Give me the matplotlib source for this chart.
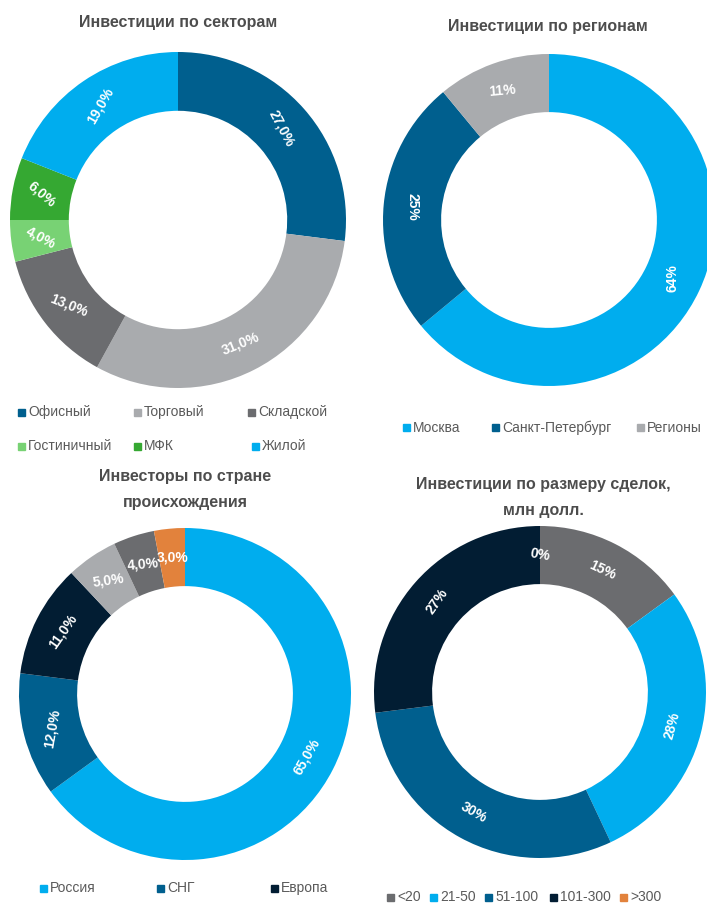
import matplotlib
matplotlib.use("Agg")
import matplotlib.pyplot as plt
import numpy as np

plt.rcParams['font.family'] = ['Liberation Sans Narrow', 'Liberation Sans', 'DejaVu Sans']

# --- данные ---
sector_names = ['Офисный', 'Торговый', 'Складской', 'Гостиничный', 'МФК', 'Жилой']
sector_vals = [27.0, 31.0, 13.0, 4.0, 6.0, 19.0]

region_names = ['Москва', 'Санкт-Петербург', 'Регионы']
region_vals = [64, 25, 11]

origin_names = ['Россия', 'СНГ', 'Европа', 'Азия', 'Америка', 'Другие']
origin_vals = [65.0, 12.0, 11.0, 5.0, 4.0, 3.0]

size_names = ['<20', '21-50', '51-100', '101-300', '>300']
size_vals = [15, 28, 30, 27, 0]

# цвета
C_DBLUE = '#005f8e'
C_LBLUE = '#00adee'
C_LGRAY = '#a9abae'
C_DGRAY = '#6b6c6f'
C_LGREEN = '#78d274'
C_GREEN = '#35a832'
C_NAVY = '#021d33'
C_ORANGE = '#e2823c'

W, H = 707, 908
fig = plt.figure(figsize=(W / 100, H / 100), dpi=100)
fig.patch.set_facecolor('white')

TITLE_C = '#4d4d4d'
LEG_C = '#5a5a5a'


def donut(cx, cy, r, vals, colors, fmt, rots):
    ax = fig.add_axes([(cx - r) / W, (H - cy - r) / H, 2 * r / W, 2 * r / H])
    ax.pie(vals, colors=colors, startangle=90, counterclock=False, radius=1,
           wedgeprops=dict(width=0.35, linewidth=0))
    ax.set_xlim(-1, 1)
    ax.set_ylim(-1, 1)
    ax.set_aspect('equal')
    ax.axis('off')
    total = sum(vals)
    start = 90.0
    for v, rot in zip(vals, rots):
        span = v / total * 360
        mid = np.deg2rad(start - span / 2)
        start -= span
        ax.text(0.825 * np.cos(mid), 0.825 * np.sin(mid), fmt(v), rotation=rot,
                ha='center', va='center', color='white', fontsize=10,
                fontweight='bold', rotation_mode='anchor')
    return ax


def title(x, ys, lines):
    for y, s in zip(ys, lines):
        fig.text(x / W, (H - y) / H, s, ha='center', va='center',
                 fontsize=11.5, fontweight='bold', color=TITLE_C)


def legend_row(y, xs, names, colors):
    for x, n, c in zip(xs, names, colors):
        fig.patches.append(plt.Rectangle((x / W, (H - y - 3.5) / H), 7 / W, 7 / H,
                                         transform=fig.transFigure, color=c))
        fig.text((x + 10) / W, (H - y) / H, n, color=LEG_C, fontsize=10,
                 ha='left', va='center')


comma = lambda v: f'{v:.1f}%'.replace('.', ',')
whole = lambda v: f'{v:.0f}%'

# Инвестиции по секторам
c1 = [C_DBLUE, C_LGRAY, C_DGRAY, C_LGREEN, C_GREEN, C_LBLUE]
title(178, [22], ['Инвестиции по секторам'])
donut(178, 220, 168, sector_vals, c1, comma, [-62, 22, -22, -28, -40, 60])
legend_row(412, [18, 134, 248], sector_names[:3], c1[:3])
legend_row(446, [18, 134, 252], sector_names[3:], c1[3:])

# Инвестиции по регионам
c2 = [C_LBLUE, C_DBLUE, C_LGRAY]
title(548, [27], ['Инвестиции по регионам'])
donut(549, 220, 166, region_vals, c2, whole, [90, -90, 5])
legend_row(428, [403, 492, 637], region_names, c2)

# Инвесторы по стране происхождения
c3 = [C_LBLUE, C_DBLUE, C_NAVY, C_LGRAY, C_DGRAY, C_ORANGE]
title(185, [477, 502], ['Инвесторы по стране', 'происхождения'])
donut(185, 694, 166, origin_vals, c3, comma, [60, 80, 55, 8, 5, 0])
legend_row(888, [40, 157, 271], origin_names[:3], c3[:3])
legend_row(914, [40, 157, 271], origin_names[3:], c3[3:])

# Инвестиции по размеру сделок
c4 = [C_DGRAY, C_LBLUE, C_DBLUE, C_NAVY, C_ORANGE]
title(543, [485, 510], ['Инвестиции по размеру сделок,', 'млн долл.'])
donut(540, 692, 166, size_vals, c4, whole, [-25, 75, -30, 55, -10])
legend_row(897, [387, 430, 485, 550, 620], size_names, c4)

fig.savefig('out.png', dpi=100, facecolor='white')
